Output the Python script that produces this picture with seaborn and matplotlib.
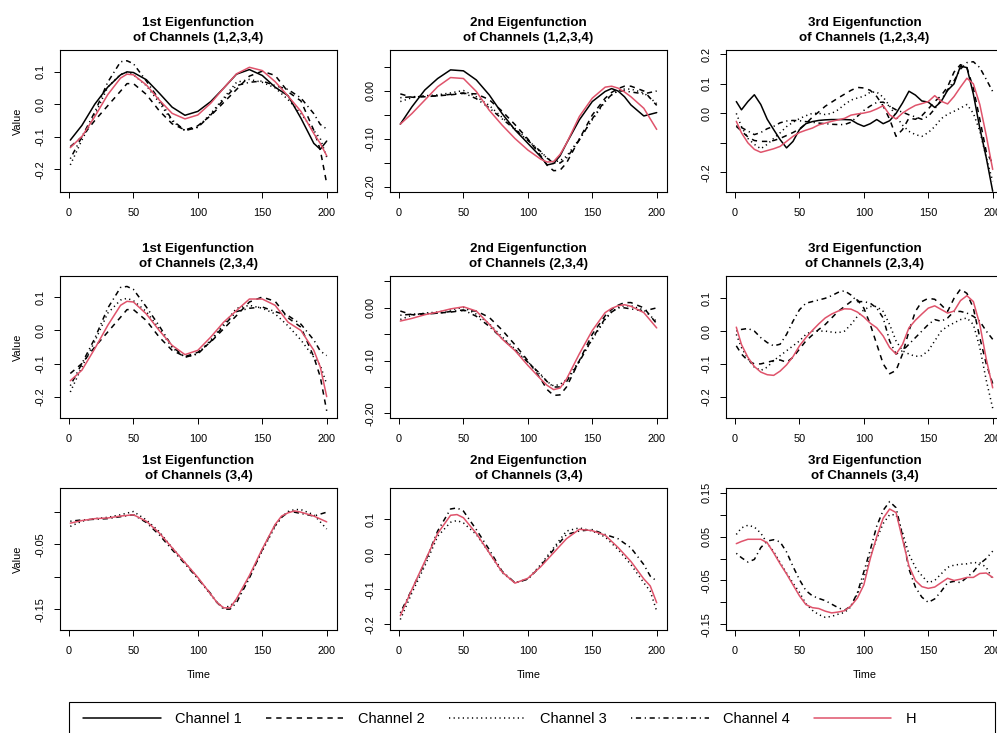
import numpy as np
import pandas as pd
import matplotlib
matplotlib.use("Agg")
import matplotlib.pyplot as plt
import seaborn as sns
from matplotlib.patches import Rectangle
from matplotlib.lines import Line2D

# ---------------- data ----------------
T_A = [1, 10, 20, 30, 40, 45, 50, 60, 70, 80, 90, 100, 110, 120, 130, 140, 150, 160, 170, 180, 190, 195, 200]
CH1_A = [-0.110, -0.065, 0.000, 0.052, 0.090, 0.099, 0.097, 0.075, 0.034, -0.009, -0.034, -0.022, 0.008, 0.049, 0.092, 0.106, 0.088, 0.052, 0.026, -0.043, -0.120, -0.138, -0.113]
CH2_A = [-0.130, -0.100, -0.050, -0.005, 0.040, 0.063, 0.063, 0.030, -0.020, -0.060, -0.079, -0.066, -0.035, 0.005, 0.045, 0.086, 0.101, 0.088, 0.038, 0.010, -0.080, -0.140, -0.243]
CH3_A = [-0.186, -0.110, -0.033, 0.052, 0.092, 0.097, 0.090, 0.057, 0.005, -0.052, -0.081, -0.070, -0.029, 0.019, 0.067, 0.076, 0.067, 0.050, 0.014, -0.029, -0.081, -0.105, -0.162]
CH4_A = [-0.167, -0.100, -0.024, 0.067, 0.130, 0.133, 0.124, 0.071, 0.014, -0.048, -0.081, -0.071, -0.033, 0.014, 0.057, 0.067, 0.071, 0.057, 0.045, 0.019, -0.029, -0.062, -0.076]
H_11 = [-0.133, -0.099, -0.038, 0.029, 0.080, 0.092, 0.090, 0.059, 0.013, -0.028, -0.045, -0.033, 0.003, 0.049, 0.093, 0.113, 0.103, 0.069, 0.025, -0.022, -0.090, -0.120, -0.158]
H_21 = [-0.152, -0.120, -0.055, 0.015, 0.076, 0.088, 0.086, 0.050, 0.000, -0.045, -0.073, -0.060, -0.020, 0.025, 0.060, 0.095, 0.095, 0.076, 0.025, 0.000, -0.060, -0.110, -0.200]
H_32 = [-0.175, -0.100, -0.020, 0.060, 0.112, 0.114, 0.105, 0.060, 0.005, -0.050, -0.082, -0.068, -0.035, 0.005, 0.045, 0.072, 0.068, 0.055, 0.020, -0.020, -0.070, -0.090, -0.138]

T_B = [1, 10, 20, 30, 40, 50, 60, 70, 80, 90, 100, 110, 115, 120, 125, 130, 140, 150, 160, 165, 170, 175, 180, 190, 200]
CH1_B = [-0.069, -0.033, 0.002, 0.026, 0.044, 0.042, 0.023, -0.008, -0.047, -0.081, -0.109, -0.137, -0.154, -0.151, -0.135, -0.109, -0.060, -0.022, -0.001, 0.005, 0.000, -0.012, -0.029, -0.052, -0.045]
CH2_B = [-0.006, -0.013, -0.012, -0.010, -0.008, -0.005, -0.006, -0.018, -0.042, -0.070, -0.100, -0.135, -0.155, -0.166, -0.165, -0.150, -0.100, -0.050, -0.015, -0.003, 0.005, 0.010, 0.010, 0.000, -0.030]
CH3_B = [-0.022, -0.014, -0.010, -0.008, -0.004, 0.001, -0.012, -0.030, -0.055, -0.078, -0.102, -0.128, -0.140, -0.148, -0.145, -0.136, -0.100, -0.060, -0.022, -0.008, 0.001, 0.004, 0.004, -0.004, -0.026]
CH4_B = [-0.014, -0.012, -0.011, -0.010, -0.007, -0.004, -0.016, -0.035, -0.058, -0.080, -0.103, -0.126, -0.140, -0.150, -0.150, -0.140, -0.102, -0.058, -0.020, -0.008, 0.000, 0.000, -0.002, -0.006, 0.000]
H_12 = [-0.069, -0.047, -0.019, 0.009, 0.028, 0.026, -0.001, -0.040, -0.071, -0.099, -0.123, -0.142, -0.148, -0.147, -0.132, -0.109, -0.053, -0.015, 0.008, 0.010, 0.006, -0.002, -0.012, -0.036, -0.080]
H_22 = [-0.025, -0.020, -0.013, -0.008, -0.002, 0.002, -0.006, -0.031, -0.059, -0.081, -0.109, -0.135, -0.147, -0.155, -0.152, -0.135, -0.087, -0.043, -0.009, -0.001, 0.004, 0.006, 0.003, -0.009, -0.038]
H_31 = [-0.017, -0.013, -0.010, -0.009, -0.006, -0.004, -0.014, -0.032, -0.055, -0.078, -0.101, -0.127, -0.140, -0.148, -0.148, -0.134, -0.098, -0.057, -0.019, -0.006, -0.001, 0.002, 0.000, -0.006, -0.015]

T_C = [1, 5, 10, 15, 20, 25, 30, 35, 40, 45, 50, 55, 60, 65, 70, 75, 80, 85, 90, 95, 100,
       105, 110, 115, 120, 125, 130, 135, 140, 145, 150, 155, 160, 165, 170, 175, 180, 185, 190, 195, 200]
CH1_C13 = [0.040, 0.012, 0.040, 0.063, 0.030, -0.020, -0.055, -0.089, -0.117, -0.095, -0.055, -0.035, -0.028, -0.024, -0.022, -0.021, -0.021, -0.021, -0.022, -0.035, -0.044,
           -0.035, -0.021, -0.035, -0.025, 0.000, 0.035, 0.075, 0.062, 0.042, 0.038, 0.020, 0.040, 0.078, 0.100, 0.160, 0.155, 0.065, -0.050, -0.150, -0.264]
CH2_C13 = [-0.044, -0.060, -0.080, -0.092, -0.095, -0.095, -0.092, -0.085, -0.075, -0.065, -0.053, -0.035, -0.013, 0.005, 0.024, 0.038, 0.052, 0.065, 0.078, 0.088, 0.086,
           0.078, 0.057, 0.025, -0.020, -0.078, -0.055, -0.016, -0.020, -0.008, 0.015, 0.040, 0.060, 0.090, 0.140, 0.165, 0.155, 0.085, -0.020, -0.130, -0.170]
CH3_C13 = [0.000, -0.045, -0.085, -0.105, -0.120, -0.105, -0.085, -0.066, -0.045, -0.030, -0.018, -0.008, 0.000, 0.000, -0.004, 0.000, 0.012, 0.030, 0.045, 0.052, 0.058,
           0.072, 0.072, 0.055, 0.025, -0.010, -0.040, -0.061, -0.072, -0.078, -0.065, -0.045, -0.018, -0.003, 0.007, 0.018, 0.030, 0.000, -0.060, -0.150, -0.230]
CH4_C13 = [-0.042, -0.048, -0.060, -0.072, -0.065, -0.052, -0.044, -0.032, -0.026, -0.024, -0.025, -0.028, -0.030, -0.033, -0.035, -0.037, -0.038, -0.038, -0.030, -0.010, 0.010,
           0.025, 0.037, 0.038, 0.024, 0.012, 0.004, -0.005, -0.012, -0.020, -0.010, 0.015, 0.045, 0.080, 0.110, 0.150, 0.172, 0.175, 0.155, 0.115, 0.074]
H_13 = [-0.027, -0.066, -0.100, -0.122, -0.132, -0.126, -0.120, -0.112, -0.095, -0.078, -0.065, -0.057, -0.050, -0.039, -0.033, -0.027, -0.022, -0.017, -0.006, -0.002, 0.001,
        0.006, 0.015, 0.026, -0.005, -0.019, 0.001, 0.015, 0.027, 0.033, 0.040, 0.060, 0.041, 0.032, 0.057, 0.089, 0.119, 0.100, 0.030, -0.075, -0.190]

CH2_C23 = [-0.045, -0.070, -0.090, -0.100, -0.100, -0.095, -0.090, -0.088, -0.095, -0.080, -0.055, -0.030, -0.012, 0.005, 0.020, 0.040, 0.060, 0.075, 0.090, 0.095, 0.070,
           0.020, -0.040, -0.100, -0.130, -0.120, -0.070, 0.000, 0.060, 0.090, 0.100, 0.097, 0.080, 0.060, 0.100, 0.128, 0.115, 0.070, -0.020, -0.100, -0.160]
CH3_C23 = [-0.010, -0.050, -0.085, -0.110, -0.120, -0.110, -0.090, -0.075, -0.060, -0.045, -0.030, -0.010, 0.000, 0.000, 0.000, -0.003, -0.005, 0.000, 0.020, 0.045, 0.065,
           0.075, 0.075, 0.060, 0.020, -0.030, -0.060, -0.070, -0.077, -0.075, -0.060, -0.030, 0.000, 0.015, 0.025, 0.035, 0.040, 0.020, -0.050, -0.150, -0.235]
CH4_C23 = [0.000, 0.005, 0.008, 0.000, -0.020, -0.035, -0.045, -0.040, -0.010, 0.030, 0.065, 0.085, 0.090, 0.095, 0.100, 0.108, 0.118, 0.123, 0.110, 0.090, 0.090,
           0.085, 0.070, 0.040, -0.030, -0.070, -0.060, -0.040, -0.020, 0.000, 0.020, 0.035, 0.030, 0.040, 0.060, 0.060, 0.055, 0.045, 0.030, 0.000, -0.025]
H_23 = [0.012, -0.041, -0.080, -0.108, -0.125, -0.133, -0.135, -0.122, -0.103, -0.078, -0.045, -0.020, 0.002, 0.022, 0.040, 0.052, 0.061, 0.068, 0.067, 0.058, 0.043,
        0.024, 0.010, -0.015, -0.050, -0.070, -0.041, 0.010, 0.033, 0.052, 0.070, 0.077, 0.066, 0.055, 0.061, 0.093, 0.108, 0.090, 0.020, -0.085, -0.173]

CH3_C33 = [0.055, 0.070, 0.076, 0.072, 0.058, 0.035, 0.016, -0.009, -0.033, -0.056, -0.077, -0.103, -0.118, -0.128, -0.134, -0.132, -0.127, -0.123, -0.110, -0.080, -0.045,
           0.006, 0.045, 0.080, 0.100, 0.100, 0.060, 0.010, -0.020, -0.039, -0.055, -0.050, -0.035, -0.020, -0.015, -0.013, -0.012, -0.009, -0.010, -0.020, -0.047]
CH4_C33 = [0.012, 0.002, -0.008, -0.002, 0.025, 0.040, 0.043, 0.038, 0.015, -0.018, -0.048, -0.073, -0.085, -0.091, -0.096, -0.104, -0.112, -0.118, -0.108, -0.078, -0.030,
           0.020, 0.074, 0.110, 0.130, 0.116, 0.052, -0.024, -0.065, -0.088, -0.100, -0.092, -0.075, -0.055, -0.052, -0.055, -0.043, -0.030, -0.012, 0.000, 0.017]
H_33 = [0.034, 0.039, 0.044, 0.044, 0.044, 0.036, 0.013, -0.012, -0.035, -0.060, -0.085, -0.105, -0.112, -0.114, -0.120, -0.124, -0.122, -0.119, -0.108, -0.090, -0.060,
        0.000, 0.050, 0.092, 0.113, 0.105, 0.044, -0.017, -0.050, -0.064, -0.068, -0.065, -0.055, -0.045, -0.050, -0.047, -0.043, -0.043, -0.034, -0.033, -0.043]

TITLES = [
    ["1st Eigenfunction\nof Channels (1,2,3,4)", "2nd Eigenfunction\nof Channels (1,2,3,4)", "3rd Eigenfunction\nof Channels (1,2,3,4)"],
    ["1st Eigenfunction\nof Channels (2,3,4)", "2nd Eigenfunction\nof Channels (2,3,4)", "3rd Eigenfunction\nof Channels (2,3,4)"],
    ["1st Eigenfunction\nof Channels (3,4)", "2nd Eigenfunction\nof Channels (3,4)", "3rd Eigenfunction\nof Channels (3,4)"],
]
X_TICKS = [0, 50, 100, 150, 200]
LEGEND_LABELS = ["Channel 1", "Channel 2", "Channel 3", "Channel 4", "H"]

PANELS = [
    [(T_A, {"Channel 1": CH1_A, "Channel 2": CH2_A, "Channel 3": CH3_A, "Channel 4": CH4_A, "H": H_11}),
     (T_B, {"Channel 1": CH1_B, "Channel 2": CH2_B, "Channel 3": CH3_B, "Channel 4": CH4_B, "H": H_12}),
     (T_C, {"Channel 1": CH1_C13, "Channel 2": CH2_C13, "Channel 3": CH3_C13, "Channel 4": CH4_C13, "H": H_13})],
    [(T_A, {"Channel 2": CH2_A, "Channel 3": CH3_A, "Channel 4": CH4_A, "H": H_21}),
     (T_B, {"Channel 2": CH2_B, "Channel 3": CH3_B, "Channel 4": CH4_B, "H": H_22}),
     (T_C, {"Channel 2": CH2_C23, "Channel 3": CH3_C23, "Channel 4": CH4_C23, "H": H_23})],
    [(T_B, {"Channel 3": CH3_B, "Channel 4": CH4_B, "H": H_31}),
     (T_A, {"Channel 3": CH3_A, "Channel 4": CH4_A, "H": H_32}),
     (T_C, {"Channel 3": CH3_C33, "Channel 4": CH4_C33, "H": H_33})],
]

Y_LIMS = [[(-0.269, 0.166), (-0.2104, 0.0854), (-0.2665, 0.2147)],
          [(-0.2646, 0.1646), (-0.2088, 0.0604), (-0.265, 0.168)],
          [(-0.1823, 0.0374), (-0.216, 0.190), (-0.163, 0.161)]]
Y_TICKS = [[[-0.2, -0.1, 0.0, 0.1], [-0.20, -0.15, -0.10, -0.05, 0.00, 0.05], [-0.2, -0.1, 0.0, 0.1, 0.2]],
           [[-0.2, -0.1, 0.0, 0.1], [-0.20, -0.15, -0.10, -0.05, 0.00, 0.05], [-0.2, -0.1, 0.0, 0.1]],
           [[-0.15, -0.10, -0.05, 0.00], [-0.2, -0.1, 0.0, 0.1], [-0.15, -0.10, -0.05, 0.00, 0.05, 0.10, 0.15]]]
Y_LABELS = [[["-0.2", "-0.1", "0.0", "0.1"], ["-0.20", "", "-0.10", "", "0.00", ""], ["-0.2", "", "0.0", "0.1", "0.2"]],
            [["-0.2", "-0.1", "0.0", "0.1"], ["-0.20", "", "-0.10", "", "0.00", ""], ["-0.2", "-0.1", "0.0", "0.1"]],
            [["-0.15", "", "-0.05", ""], ["-0.2", "-0.1", "0.0", "0.1"], ["-0.15", "", "-0.05", "", "0.05", "", "0.15"]]]

# ---------------- style ----------------
sns.set_theme(style="ticks", rc={
    "axes.edgecolor": "black", "xtick.color": "black", "ytick.color": "black",
    "text.color": "black", "axes.labelcolor": "black",
})
plt.rcParams["font.family"] = ["Liberation Sans", "DejaVu Sans"]
plt.rcParams["axes.unicode_minus"] = False

RED = "#DF536B"
PALETTE = {"Channel 1": "black", "Channel 2": "black", "Channel 3": "black", "Channel 4": "black", "H": RED}
DASHES = {"Channel 1": "", "Channel 2": (3.5, 3.2), "Channel 3": (0.8, 2.2), "Channel 4": (0.8, 2.4, 3.4, 2.4), "H": ""}
LW = 1.1

W, H = 997, 733
fig = plt.figure(figsize=(W / 100, H / 100), dpi=100)

COL_LEFT = [60, 390, 726]
ROW_TOP = [50, 276, 488]
AX_W, AX_H = 277, 142

for r in range(3):
    for c in range(3):
        left = COL_LEFT[c] / W
        bottom = 1 - (ROW_TOP[r] + AX_H) / H
        ax = fig.add_axes([left, bottom, AX_W / W, AX_H / H])
        t, curves = PANELS[r][c]
        names = list(curves.keys())
        df = pd.DataFrame({
            "Time": np.concatenate([np.asarray(t, float) for _ in names]),
            "Value": np.concatenate([np.asarray(curves[n], float) for n in names]),
            "Curve": np.repeat(names, len(t)),
        })
        sns.lineplot(data=df, x="Time", y="Value", hue="Curve", style="Curve",
                     hue_order=names, style_order=names,
                     palette={n: PALETTE[n] for n in names},
                     dashes={n: DASHES[n] for n in names},
                     estimator=None, sort=False, legend=False, linewidth=LW, ax=ax)
        ax.set_xlim(-7.0, 208.0)
        ax.set_ylim(*Y_LIMS[r][c])
        ax.set_xticks(X_TICKS)
        ax.set_xticklabels([str(v) for v in X_TICKS])
        ax.set_yticks(Y_TICKS[r][c])
        ax.set_yticklabels(Y_LABELS[r][c])
        for lab in ax.get_yticklabels():
            lab.set_rotation(90)
            lab.set_va("center")
        ax.tick_params(axis="both", direction="out", length=4.3, width=0.7,
                       labelsize=7.8, colors="black")
        ax.tick_params(axis="y", pad=6.0)
        ax.tick_params(axis="x", pad=7.5)
        for sp in ax.spines.values():
            sp.set_visible(True)
            sp.set_linewidth(0.8)
            sp.set_color("black")
        ax.set_title(TITLES[r][c], fontsize=9.6, fontweight="bold", pad=6.5, linespacing=1.3)
        if c == 0:
            ax.set_ylabel("Value", fontsize=7.8, va="center")
            ax.yaxis.set_label_coords(-42 / AX_W, 0.5)
        else:
            ax.set_ylabel("")
        if r == 2:
            ax.set_xlabel("Time", fontsize=7.8, va="center")
            ax.xaxis.set_label_coords(0.5, -45 / AX_H)
        else:
            ax.set_xlabel("")

# ---------------- legend ----------------
handles = [Line2D([], [], color=PALETTE[n], linewidth=LW,
                  dashes=(DASHES[n] if DASHES[n] else (None, None)))
           for n in LEGEND_LABELS]
fig.legend(handles, LEGEND_LABELS, loc="upper left", ncol=5, frameon=False,
           bbox_to_anchor=(73 / W, 1 - 702 / H), borderaxespad=0, borderpad=0.7,
           handlelength=5.3, handletextpad=1.0, columnspacing=1.65, fontsize=10.5)
fig.add_artist(Rectangle((69 / W, 1 - 745 / H), (995 - 69) / W, (745 - 702) / H,
                         transform=fig.transFigure, fill=False, edgecolor="black",
                         linewidth=0.8, clip_on=False))

fig.savefig("out.png", dpi=100)
